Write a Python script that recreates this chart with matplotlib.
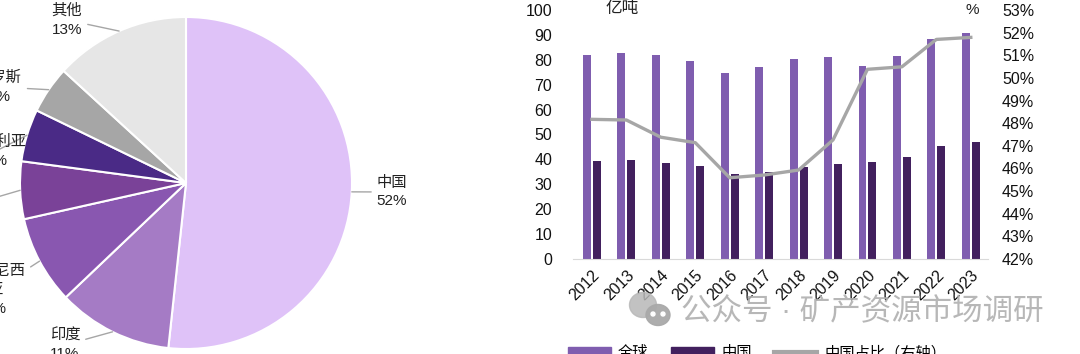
import matplotlib.pyplot as plt
import numpy as np
from matplotlib.patches import Ellipse, Patch
from matplotlib.lines import Line2D

plt.rcParams['font.family'] = ['Liberation Sans', 'Noto Sans CJK SC']

# pie: 2023 share of production
pie_names = ['中国', '印度', '印度尼西\n亚', '美国', '澳大利亚', '俄罗斯', '其他']
pie_share = [51.7, 11.2, 8.6, 5.6, 5.1, 4.6, 13.2]
pie_colors = ['#DFC2F8', '#A57BC5', '#8957B0', '#7A4298', '#4A2A86', '#A6A6A6', '#E6E6E6']

# bars: global vs China, 亿吨; line: China share, %
years = ['2012', '2013', '2014', '2015', '2016', '2017', '2018', '2019', '2020', '2021', '2022', '2023']
world = [81.9, 82.6, 81.9, 79.5, 74.8, 77.1, 80.4, 81.3, 77.5, 81.7, 88.2, 90.9]
china = [39.4, 39.8, 38.7, 37.3, 34.1, 35.1, 36.8, 38.2, 38.8, 41.1, 45.5, 46.9]
china_pct = [48.17, 48.14, 47.38, 47.14, 45.59, 45.71, 45.93, 47.26, 50.38, 50.49, 51.70, 51.79]

W, H = 1080, 354
fig = plt.figure(figsize=(W / 100, H / 100), dpi=100)

# ---- pie (cropped on the left like the screenshot) ----
cx, cy, r = 186, 183, 166
ax = fig.add_axes([0, 0, 420 / W, 1])
wedges, _ = ax.pie(pie_share, colors=pie_colors, startangle=90, counterclock=False,
                   radius=1, wedgeprops=dict(edgecolor='white', linewidth=1.5))
ax.set_xlim((0 - cx) / r, (420 - cx) / r)
ax.set_ylim((cy - H) / r, cy / r)
ax.set_aspect('auto')
ax.axis('off')

# label positions in pixels (center of label block)
label_px = [(392, 192), (65, 345), (-5, 290), (-30, 205), (-4, 151), (-1, 87), (67, 20)]
for w, name, val, (px, py) in zip(wedges, pie_names, pie_share, label_px):
    ang = np.deg2rad((w.theta1 + w.theta2) / 2)
    xy = (np.cos(ang), np.sin(ang))
    lx, ly = (px - cx) / r, (cy - py) / r
    ax.annotate(f'{name}\n{round(val)}%', xy=xy, xytext=(lx, ly), ha='center', va='center',
                fontsize=11, color='#222222', linespacing=1.45, annotation_clip=False,
                arrowprops=dict(arrowstyle='-', color='#A6A6A6', lw=1,
                                shrinkA=2, shrinkB=0))

# ---- bar + line chart ----
bx = fig.add_axes([573 / W, (H - 259) / H, 415 / W, 249 / H])
x = np.arange(len(years))
bx.bar(x - 0.145, world, width=0.23, color='#7F5DAF', label='全球', zorder=2)
bx.bar(x + 0.145, china, width=0.23, color='#42205E', label='中国', zorder=2)
bx.set_ylim(0, 100)
bx.set_yticks(range(0, 101, 10))
bx.set_xlim(-0.55, 11.5)
bx.set_xticks(x)
bx.set_xticklabels(years, rotation=45, ha='right', rotation_mode='anchor')
bx.tick_params(axis='both', length=0, labelsize=11.5, colors='#111111')
bx.tick_params(axis='y', pad=15)
bx.tick_params(axis='x', pad=6)
for s in ['top', 'right', 'left']:
    bx.spines[s].set_visible(False)
bx.spines['bottom'].set_color('#D9D9D9')

tx = bx.twinx()
tx.plot(x, china_pct, color='#A6A6A6', lw=2.4, label='中国占比（右轴）', zorder=3)
tx.set_ylim(42, 53)
tx.set_yticks(range(42, 54))
tx.set_yticklabels([f'{v}%' for v in range(42, 54)])
tx.tick_params(axis='y', length=0, labelsize=11.5, colors='#111111', pad=10)
for s in tx.spines.values():
    s.set_visible(False)
tx.set_zorder(bx.get_zorder() + 1)

fig.text(622 / W, 1 - 9 / H, '亿吨', ha='center', va='center', fontsize=12, color='#222222')
fig.text(972 / W, 1 - 10 / H, '%', ha='center', va='center', fontsize=11, color='#222222')

handles = [Patch(color='#7F5DAF'), Patch(color='#42205E'),
           Line2D([], [], color='#A6A6A6', lw=3)]
fig.legend(handles, ['全球', '中国', '中国占比（右轴）'], loc='center', ncol=3,
           bbox_to_anchor=(757 / W, 1 / H), frameon=False, fontsize=11,
           handlelength=2.8, handletextpad=0.5, columnspacing=1.45)

# watermark
fig.patches.append(Ellipse((643 / W, 1 - 305 / H), 27 / W, 25 / H, color='#B8B8B8',
                           alpha=0.85, transform=fig.transFigure, zorder=5))
fig.patches.append(Ellipse((658 / W, 1 - 315 / H), 24 / W, 21 / H, color='#A9A9A9',
                           alpha=0.95, transform=fig.transFigure, zorder=5))
for ex in (653, 663):
    fig.patches.append(Ellipse((ex / W, 1 - 314 / H), 4 / W, 4 / H, color='white',
                               transform=fig.transFigure, zorder=6))
fig.text(862 / W, 1 - 312 / H, '公众号 · 矿产资源市场调研', ha='center', va='center',
         fontsize=22, color='#B0B0B0', alpha=0.9, zorder=6)

fig.savefig('out.png', dpi=100)
